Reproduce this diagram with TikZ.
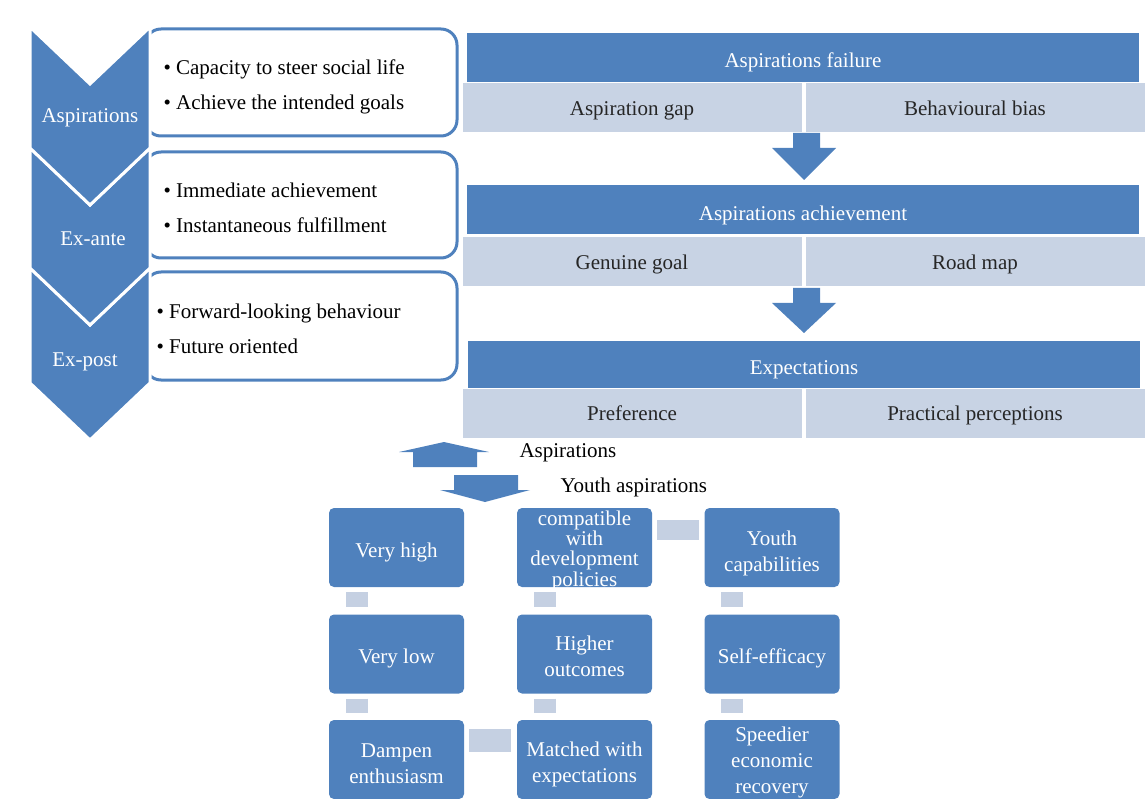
\documentclass[tikz,border=0pt]{standalone}
\usepackage{fontspec}
\setmainfont{Liberation Serif}
\usetikzlibrary{calc}
\definecolor{sablue}{RGB}{79,129,189}
\definecolor{salight}{RGB}{200,211,228}
\definecolor{saconn}{RGB}{197,208,226}
% strut that lowers the first line of a multi-line label
\newcommand{\dropline}[1]{\rule{0pt}{#1pt}}
\begin{document}
\begin{tikzpicture}[x=1pt,y=-1pt,
  base/.style={font=\fontsize{21}{25}\selectfont},
  chevlabel/.style={base,text=white},
  txtbox/.style={draw=sablue,line width=3pt,fill=white,rounded corners=16pt,minimum width=312pt,inner sep=0pt},
  bullets/.style={anchor=west,align=left,font=\fontsize{21}{35}\selectfont},
  bar/.style={base,fill=sablue,text=white,minimum width=672pt,minimum height=49pt,inner sep=0pt,text height=21pt,text depth=0pt},
  cell/.style={base,fill=salight,text=black!85,minimum width=339pt,minimum height=49pt,inner sep=0pt,text height=15pt,text depth=0pt},
  blockarrow/.style={fill=sablue},
  gbox/.style={fill=sablue,text=white,rounded corners=5pt,minimum width=135pt,minimum height=79pt,inner sep=0pt,align=center,font=\fontsize{21}{26}\selectfont},
  gsingle/.style={gbox,text height=19.5pt,text depth=0pt},
  conn/.style={draw=saconn},
  plain/.style={base,anchor=west,text=black}]
\useasboundingbox (0,0) rectangle (1145,799);

% ---- bullet boxes (left ends hidden under the chevrons)
\node[txtbox,minimum height=107pt] (t1) at (301,82.5) {};
\node[txtbox,minimum height=106pt] (t2) at (301,205) {};
\node[txtbox,minimum height=108pt] (t3) at (301,326) {};

% ---- chevron column
\foreach \t/\b in {268/383,148/268,27/148}{
  \filldraw[fill=sablue,draw=white,line width=3pt,line join=miter]
    (30,\t) -- (90,\t+57) -- (150,\t) -- (150,\b) -- (90,\b+57) -- (30,\b) -- cycle;
}
\node[chevlabel] (c1) at (90,118) {Aspirations};
\node[chevlabel] (c2) at (93,239) {Ex-ante};
\node[chevlabel] (c3) at (85,362) {Ex-post};

\node[bullets] (u1) at (160,87) {• Capacity to steer social life\\• Achieve the intended goals};
\node[bullets] (u2) at (160,208) {• Immediate achievement\\• Instantaneous fulfillment};
\node[bullets] (u3) at (153,329) {• Forward-looking behaviour\\• Future oriented};

% ---- right-hand stages
\node[bar] (b1) at (803,57.5) {Aspirations failure};
\node[cell] (l1a) at (632,108) {Aspiration gap};
\node[cell] (l1b) at (975,108) {Behavioural bias};
\node[bar] (b2) at (803,210) {Aspirations achievement};
\node[cell] (l2a) at (632,262) {Genuine goal};
\node[cell] (l2b) at (975,262) {Road map};
\node[bar,minimum height=47pt] (b3) at (804,364) {Expectations};
\node[cell] (l3a) at (632,413) {Preference};
\node[cell] (l3b) at (975,413) {Practical perceptions};

% down arrows between the stages
\fill[blockarrow] (793,133) -- (820,133) -- (820,148) -- (836,148) -- (804,180) -- (772,148) -- (793,148) -- cycle;
\fill[blockarrow] (793,288) -- (820,288) -- (820,303) -- (836,303) -- (804,333) -- (772,303) -- (793,303) -- cycle;

% ---- up / down arrows with captions
\fill[blockarrow] (413,467) -- (413,452) -- (399,452) -- (444,442) -- (489,452) -- (477,452) -- (477,467) -- cycle;
\fill[blockarrow] (454,475) -- (518,475) -- (518,490) -- (530,490) -- (485,502) -- (440,490) -- (454,490) -- cycle;
\node[plain] (capA) at (516,453) {Aspirations};
\node[plain] (capY) at (557,487) {Youth aspirations};

% ---- youth aspirations grid
\node[gsingle] (g11) at (396.5,547.5) {Very high};
% this label is taller than its box and spills over the edges
\node[gbox,align=none,font=\fontsize{21}{19.5}\selectfont] (g12) at (584.5,547.5)
  {\raisebox{-9pt}[0pt][0pt]{\begin{tabular}{@{}c@{}}compatible\\with\\development\\policies\end{tabular}}};
\node[gbox] (g13) at (772,547.5) {\dropline{26.5}Youth\\capabilities};
\node[gsingle] (g21) at (396.5,654) {Very low};
\node[gbox] (g22) at (584.5,654) {\dropline{18.5}Higher\\outcomes};
\node[gsingle] (g23) at (772,654) {Self-efficacy};
\node[gbox] (g31) at (396.5,759.5) {\dropline{22.5}Dampen\\enthusiasm};
\node[gbox] (g32) at (584.5,759.5) {\dropline{24.5}Matched with\\expectations};
\node[gbox] (g33) at (772,759.5) {\dropline{21.5}Speedier\\economic\\recovery};

% connectors
\foreach \a/\b in {g11/g21,g21/g31,g12/g22,g22/g32,g13/g23,g23/g33}{
  \draw[conn,line width=22pt,shorten <=5pt,shorten >=7pt]
    ([xshift=28pt]\a.south west) -- ([xshift=28pt]\b.north west);
}
\draw[conn,line width=20pt,shorten <=5pt,shorten >=5pt]
  ([yshift=-22pt]g12.north east) -- ([yshift=-22pt]g13.north west);
\draw[conn,line width=23pt,shorten <=5pt,shorten >=6pt]
  ([yshift=-21pt]g31.north east) -- ([yshift=-21pt]g32.north west);
\end{tikzpicture}
\end{document}
